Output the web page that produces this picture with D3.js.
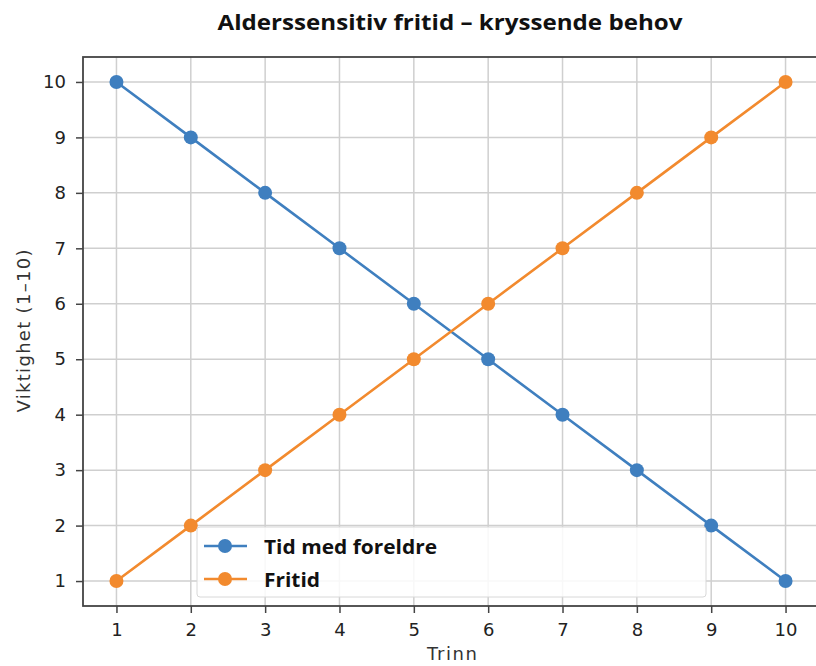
<!DOCTYPE html>
<html>
<head>
<meta charset="utf-8">
<script src="https://cdn.jsdelivr.net/npm/d3@7"></script>
<style>
  body { margin: 0; background: #fff; }
  svg { display: block; }
</style>
</head>
<body>
<div id="chart"></div>
<script>
// Data
const trinn = [1, 2, 3, 4, 5, 6, 7, 8, 9, 10];
const tidMedForeldre = [10, 9, 8, 7, 6, 5, 4, 3, 2, 1];
const fritid = [1, 2, 3, 4, 5, 6, 7, 8, 9, 10];
const seriesNames = ["Tid med foreldre", "Fritid"];
const yTicks = [1, 2, 3, 4, 5, 6, 7, 8, 9, 10];

const W = 816, H = 666;
const margin = { top: 57, right: -3, bottom: 60, left: 83 };
const width = W - margin.left - margin.right;
const height = H - margin.top - margin.bottom;

const svg = d3.select("#chart").append("svg")
    .attr("width", W)
    .attr("height", H);

const g = svg.append("g")
    .attr("transform", `translate(${margin.left},${margin.top})`);

// Scales (matplotlib-style 5% padding)
const x = d3.scaleLinear().domain([0.55, 10.45]).range([0, width]);
const y = d3.scaleLinear().domain([0.55, 10.45]).range([height, 0]);

// Grid
g.append("g").selectAll("line").data(trinn).enter().append("line")
    .attr("x1", d => x(d)).attr("x2", d => x(d))
    .attr("y1", 0).attr("y2", height)
    .attr("stroke", "#cfcfcf").attr("stroke-width", 1.5);
g.append("g").selectAll("line").data(yTicks).enter().append("line")
    .attr("y1", d => y(d)).attr("y2", d => y(d))
    .attr("x1", 0).attr("x2", width)
    .attr("stroke", "#cfcfcf").attr("stroke-width", 1.5);

// Frame
g.append("rect")
    .attr("x", 0).attr("y", 0).attr("width", width).attr("height", height)
    .attr("fill", "none").attr("stroke", "#444").attr("stroke-width", 1.8);

// Axes
const xAxis = g.append("g")
    .attr("transform", `translate(0,${height})`)
    .call(d3.axisBottom(x).tickValues(trinn).tickSize(7).tickPadding(10).tickFormat(d3.format("d")));
const yAxis = g.append("g")
    .call(d3.axisLeft(y).tickValues(yTicks).tickSize(7).tickPadding(10).tickFormat(d3.format("d")));
[xAxis, yAxis].forEach(a => {
    a.select(".domain").remove();
    a.selectAll(".tick line").attr("stroke", "#444").attr("stroke-width", 1.5);
    a.selectAll(".tick text")
        .attr("fill", "#222")
        .style("font-family", "DejaVu Sans")
        .style("font-size", "18px");
});

// Lines
const colors = ["#3f7fbf", "#f28a2e"];
const allSeries = [tidMedForeldre, fritid];
const line = d3.line().x((d, i) => x(trinn[i])).y(d => y(d));

allSeries.forEach((vals, s) => {
    g.append("path")
        .datum(vals)
        .attr("fill", "none")
        .attr("stroke", colors[s])
        .attr("stroke-width", 2.6)
        .attr("d", line);
    g.append("g").selectAll("circle").data(vals).enter().append("circle")
        .attr("cx", (d, i) => x(trinn[i]))
        .attr("cy", d => y(d))
        .attr("r", 7)
        .attr("fill", colors[s]);
});

// Legend
const legendW = [173, 56];
const legend = g.append("g").attr("transform", `translate(${197 - margin.left},${527 - margin.top})`);
legend.append("rect")
    .attr("width", 509).attr("height", 70).attr("rx", 3)
    .attr("fill", "white").attr("fill-opacity", 0.85)
    .attr("stroke", "#d8d8d8").attr("stroke-width", 1);
seriesNames.forEach((name, i) => {
    const ly = 19 + i * 33;
    legend.append("line")
        .attr("x1", 7).attr("x2", 50).attr("y1", ly).attr("y2", ly)
        .attr("stroke", colors[i]).attr("stroke-width", 2.6);
    legend.append("circle")
        .attr("cx", 28).attr("cy", ly).attr("r", 7).attr("fill", colors[i]);
    legend.append("text")
        .attr("x", 67).attr("y", ly + 8)
        .attr("textLength", legendW[i])
        .attr("lengthAdjust", "spacingAndGlyphs")
        .style("font-family", "Open Sans")
        .style("font-weight", "bold")
        .style("font-size", "19px")
        .attr("fill", "#111")
        .text(name);
});

// Axis labels
svg.append("text")
    .attr("x", 452)
    .attr("y", 660)
    .attr("text-anchor", "middle")
    .attr("textLength", 50)
    .style("font-family", "DejaVu Sans")
    .style("font-size", "18px")
    .attr("fill", "#333")
    .text("Trinn");

svg.append("text")
    .attr("transform", `translate(30,331) rotate(-90)`)
    .attr("text-anchor", "middle")
    .attr("textLength", 163)
    .style("font-family", "DejaVu Sans")
    .style("font-size", "18px")
    .attr("fill", "#333")
    .text("Viktighet (1–10)");

// Title
svg.append("text")
    .attr("x", 450)
    .attr("y", 30)
    .attr("text-anchor", "middle")
    .attr("textLength", 465)
    .attr("lengthAdjust", "spacingAndGlyphs")
    .style("font-family", "Open Sans")
    .style("font-weight", "bold")
    .style("font-size", "21px")
    .attr("fill", "#111")
    .text("Alderssensitiv fritid – kryssende behov");
</script>
</body>
</html>
